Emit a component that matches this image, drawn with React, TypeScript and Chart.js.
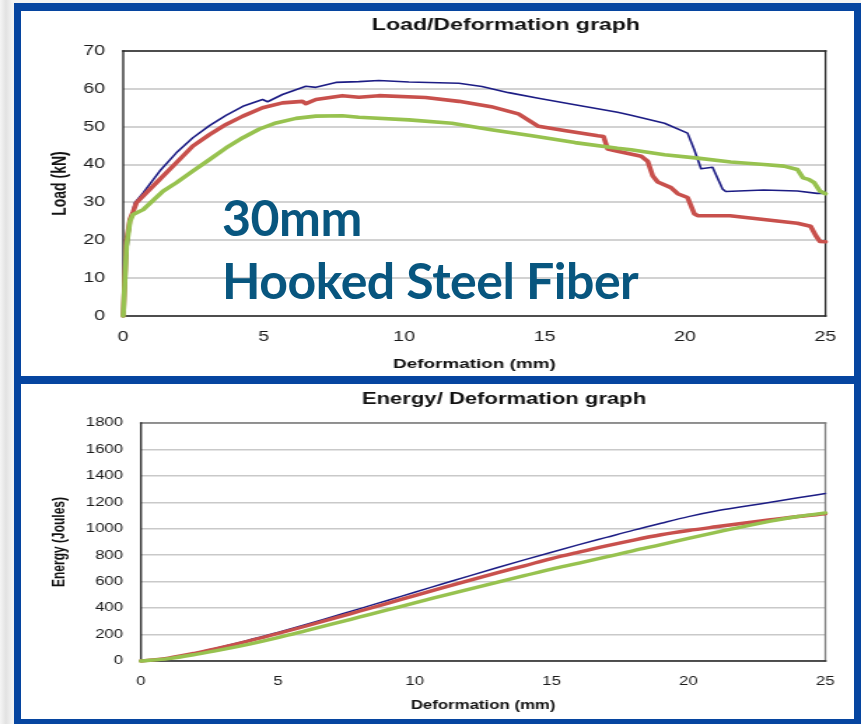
import React, { useEffect, useRef } from "react";
import { Chart, registerables } from "chart.js";

Chart.register(...registerables);

// The chart pictures are drawn narrow and widened on screen by this factor.
const STRETCH = 1.4;

// Axis ranges
const deformationMax = 25;
const deformationStep = 5;
const loadMax = 70;
const loadStep = 10;
const energyMax = 1800;
const energyStep = 200;

// Load / deformation records: deformation (mm) and load (kN)
const loadBlueX = [0, 0.1, 0.25, 0.41, 0.71, 1.3, 1.89, 2.48, 3.07, 3.66, 4.26, 4.96, 5.14, 5.67, 6.5, 6.86, 7.57, 8.39, 9.1, 10.17, 11.95, 12.77, 13.72, 14.78, 16.08, 17.6, 18.08, 19.27, 20.09, 20.33, 20.57, 20.98, 21.34, 21.45, 22.8, 24, 24.7, 25];
const loadBlueY = [0, 14, 25, 29.9, 32.5, 38.3, 43.1, 47.1, 50.3, 53, 55.4, 57.2, 56.6, 58.5, 60.7, 60.4, 61.7, 61.9, 62.2, 61.8, 61.5, 60.6, 59, 57.5, 55.8, 53.8, 53, 50.9, 48.3, 43.9, 38.9, 39.3, 33.5, 32.9, 33.3, 33, 32.4, 32.4];

const loadRedX = [0, 0.12, 0.24, 0.35, 0.47, 1.3, 1.89, 2.48, 3.07, 3.66, 4.26, 4.96, 5.67, 6.38, 6.5, 6.86, 7.8, 8.39, 9.1, 10.76, 11.95, 13.1, 14.07, 14.78, 15.7, 16.9, 17.1, 17.25, 17.6, 18.44, 18.67, 18.85, 19.03, 19.5, 19.74, 20.09, 20.33, 20.45, 21.6, 22.8, 24, 24.47, 24.65, 24.8, 25];
const loadRedY = [0, 20, 25.5, 27.5, 29.9, 36.1, 40.5, 44.9, 47.9, 50.6, 52.8, 55, 56.3, 56.7, 56.1, 57.2, 58.2, 57.8, 58.2, 57.7, 56.7, 55.3, 53.4, 50.1, 49, 47.6, 47.4, 44.1, 43.5, 42.2, 40.9, 37, 35.4, 33.9, 32.3, 31.3, 27, 26.5, 26.5, 25.5, 24.5, 23.7, 21.3, 19.7, 19.6];

const loadGreenX = [0, 0.12, 0.24, 0.35, 0.71, 1.42, 1.89, 2.48, 3.07, 3.66, 4.26, 4.85, 5.44, 6.15, 6.86, 7.8, 8.39, 10.17, 11.7, 13.1, 14.55, 16.08, 17.6, 18.08, 19.27, 20.45, 21.63, 22.81, 23.52, 24, 24.2, 24.4, 24.6, 24.8, 25];
const loadGreenY = [0, 18.5, 25, 26.8, 28.1, 33, 35.2, 38.3, 41.3, 44.4, 47.1, 49.4, 51, 52.2, 52.8, 52.9, 52.5, 51.8, 50.9, 49.2, 47.6, 45.8, 44.3, 43.9, 42.6, 41.7, 40.7, 40, 39.6, 38.7, 36.5, 36.1, 35.2, 33, 32.3];

// Energy / deformation records: deformation (mm) and absorbed energy (J)
const energyX = [0, 1, 2, 3, 4, 5, 6, 7, 8, 9, 10, 11, 12, 13, 14, 15, 16, 17, 18, 19, 20, 21, 22, 23, 24, 25];
const energyBlue = [0, 22, 62, 110, 162, 216, 274, 335, 396, 458, 520, 582, 644, 705, 765, 823, 880, 935, 990, 1042, 1092, 1134, 1168, 1201, 1234, 1266];
const energyRed = [0, 22, 60, 105, 155, 208, 263, 320, 378, 436, 495, 553, 610, 666, 720, 775, 824, 871, 915, 955, 987, 1015, 1042, 1068, 1093, 1113];
const energyGreen = [0, 18, 50, 88, 130, 177, 228, 280, 333, 386, 440, 492, 544, 595, 645, 695, 740, 787, 835, 880, 927, 973, 1017, 1058, 1093, 1120];

const BLUE = "#1c1c84";
const RED = "#c8504c";
const GREEN = "#97c24f";
const FRAME_BLUE = "#0645a0";
const FONT = '"Liberation Sans", Arial, Helvetica, sans-serif';

const toPoints = (xs: number[], ys: number[]) => xs.map((x, i) => ({ x, y: ys[i] }));

const series = (label: string, xs: number[], ys: number[], color: string, width: number, smooth: boolean) => ({
  label,
  data: toPoints(xs, ys),
  borderColor: color,
  backgroundColor: color,
  borderWidth: width,
  pointRadius: 0,
  fill: false,
  clip: false as const,
  tension: smooth ? 0.4 : 0,
  cubicInterpolationMode: smooth ? ("monotone" as const) : ("default" as const),
  borderJoinStyle: "round" as const,
  borderCapStyle: "round" as const,
});

// Box round the plotting area; sides may have different shades.
const plotFrame = {
  id: "plotFrame",
  beforeDatasetsDraw(chart: any, _args: any, opts: any) {
    const { ctx, chartArea: a } = chart;
    ctx.save();
    ctx.lineCap = "square";
    const line = (x1: number, y1: number, x2: number, y2: number, color: string, w: number) => {
      ctx.beginPath();
      ctx.strokeStyle = color;
      ctx.lineWidth = w;
      ctx.moveTo(x1, y1);
      ctx.lineTo(x2, y2);
      ctx.stroke();
    };
    line(a.left, a.top, a.right, a.top, opts.topColor, opts.hWidth);
    line(a.right, a.top, a.right, a.bottom, opts.rightColor, opts.vWidth);
    line(a.left, a.bottom, a.right, a.bottom, opts.bottomColor, opts.hWidth);
    line(a.left, a.top, a.left, a.bottom, opts.leftColor, opts.vWidth);
    ctx.restore();
  },
};

// Heading drawn at a fixed spot above the plot.
const panelTitle = {
  id: "panelTitle",
  afterDraw(chart: any, _args: any, opts: any) {
    const { ctx } = chart;
    ctx.save();
    ctx.font = `bold ${opts.size}px ${FONT}`;
    ctx.fillStyle = "#111";
    ctx.textAlign = "center";
    ctx.textBaseline = "middle";
    ctx.fillText(opts.text, opts.x, opts.y);
    ctx.restore();
  },
};

type Layout = {
  top: number;
  right: number;
  yWidth: number;
  xHeight: number;
  tickSize: number;
  yTickPad: number;
  xTickPad: number;
  yTitle: string;
  yTitleSize: number;
  yTitlePad: number;
  xTitleSize: number;
  xTitlePad: number;
  title: string;
  titleSize: number;
  titleX: number;
  titleY: number;
  yMax: number;
  yStep: number;
  gridColor: string;
  gridWidth: number;
  frame: any;
};

// Plain numbers, no thousands separators
const plainNumber = (v: number | string) => String(v);

function buildConfig(datasets: any[], L: Layout): any {
  return {
    type: "line",
    data: { datasets },
    plugins: [plotFrame, panelTitle],
    options: {
      responsive: false,
      animation: false,
      events: [],
      layout: { padding: { top: L.top, right: L.right, left: 0, bottom: 0 } },
      plugins: {
        legend: { display: false },
        tooltip: { enabled: false },
        title: { display: false },
        plotFrame: L.frame,
        panelTitle: { text: L.title, size: L.titleSize, x: L.titleX, y: L.titleY },
      },
      scales: {
        x: {
          type: "linear",
          min: 0,
          max: deformationMax,
          afterFit: (s: any) => {
            s.height = L.xHeight;
          },
          grid: { display: false, drawTicks: false },
          border: { display: false },
          ticks: {
            stepSize: deformationStep,
            maxRotation: 0,
            autoSkip: false,
            padding: L.xTickPad,
            color: "#1a1a1a",
            font: { family: FONT, size: L.tickSize },
            callback: plainNumber,
          },
          title: {
            display: true,
            text: "Deformation (mm)",
            color: "#111",
            font: { family: FONT, size: L.xTitleSize, weight: "bold" },
            padding: { top: 0, bottom: L.xTitlePad },
          },
        },
        y: {
          type: "linear",
          min: 0,
          max: L.yMax,
          afterFit: (s: any) => {
            s.width = L.yWidth;
          },
          grid: { color: L.gridColor, lineWidth: L.gridWidth, drawTicks: false },
          border: { display: false },
          ticks: {
            stepSize: L.yStep,
            padding: L.yTickPad,
            color: "#1a1a1a",
            font: { family: FONT, size: L.tickSize },
            callback: plainNumber,
          },
          title: {
            display: true,
            text: L.yTitle,
            color: "#111",
            font: { family: FONT, size: L.yTitleSize, weight: "bold" },
            padding: { top: L.yTitlePad, bottom: 0 },
          },
        },
      },
    },
  };
}

function StretchedChart({ config, width, height }: { config: any; width: number; height: number }) {
  const ref = useRef<HTMLCanvasElement | null>(null);
  useEffect(() => {
    if (!ref.current) return;
    const chart = new Chart(ref.current, config);
    return () => chart.destroy();
  }, []);
  return (
    <canvas
      ref={ref}
      width={Math.round(width / STRETCH)}
      height={height}
      style={{ position: "absolute", left: 0, top: 0, width: `${width}px`, height: `${height}px` }}
    />
  );
}

const PANEL_W = 833;
const TOP_H = 365;
const BOTTOM_H = 335;

const loadConfig = buildConfig(
  [
    series("Green", loadGreenX, loadGreenY, GREEN, 3.6, false),
    series("Red", loadRedX, loadRedY, RED, 3.6, false),
    series("Blue", loadBlueX, loadBlueY, BLUE, 1.6, false),
  ],
  {
    top: 40,
    right: 18.5,
    yWidth: 73,
    xHeight: 60,
    tickSize: 14,
    yTickPad: 13,
    xTickPad: 12.6,
    yTitle: "Load (kN)",
    yTitleSize: 14,
    yTitlePad: 19.5,
    xTitleSize: 13.5,
    xTitlePad: 3.9,
    title: "Load/Deformation graph",
    titleSize: 16.5,
    titleX: 346.4,
    titleY: 14,
    yMax: loadMax,
    yStep: loadStep,
    gridColor: "#d2d2d2",
    gridWidth: 2,
    frame: { topColor: "#222", rightColor: "#222", bottomColor: "#222", leftColor: "#222", hWidth: 1.6, vWidth: 1.3 },
  }
);

const energyConfig = buildConfig(
  [
    series("Green", energyX, energyGreen, GREEN, 3.4, true),
    series("Red", energyX, energyRed, RED, 3.4, true),
    series("Blue", energyX, energyBlue, BLUE, 1.5, true),
  ],
  {
    top: 39,
    right: 12.9,
    yWidth: 85.7,
    xHeight: 58,
    tickSize: 12,
    yTickPad: 12.8,
    xTickPad: 13.8,
    yTitle: "Energy (Joules)",
    yTitleSize: 12,
    yTitlePad: 20.7,
    xTitleSize: 12,
    xTitlePad: 5.8,
    title: "Energy/ Deformation graph",
    titleSize: 15.75,
    titleX: 345,
    titleY: 16,
    yMax: energyMax,
    yStep: energyStep,
    gridColor: "#c9c9c9",
    gridWidth: 1.6,
    frame: { topColor: "#7a7a7a", rightColor: "#7a7a7a", bottomColor: "#222", leftColor: "#222", hWidth: 1.6, vWidth: 1.3 },
  }
);

export default function App() {
  return (
    <div
      style={{
        position: "absolute",
        left: 0,
        top: 0,
        width: 861,
        height: 724,
        overflow: "hidden",
        background: "linear-gradient(to right, #f5f5f5 0px, #e2e2e2 6px, #f3f3f3 12px)",
      }}
    >
      <div style={{ position: "absolute", left: 14, top: 3, width: 847, height: 721, background: FRAME_BLUE }} />
      <div style={{ position: "absolute", left: 21, top: 11, width: PANEL_W, height: TOP_H, background: "#fff" }}>
        <StretchedChart config={loadConfig} width={PANEL_W} height={TOP_H} />
      </div>
      <div style={{ position: "absolute", left: 21, top: 384, width: PANEL_W, height: BOTTOM_H, background: "#fff" }}>
        <StretchedChart config={energyConfig} width={PANEL_W} height={BOTTOM_H} />
      </div>
      <div
        style={{
          position: "absolute",
          left: 222,
          top: 186,
          fontFamily: 'Lato, "Open Sans", sans-serif',
          fontWeight: 700,
          fontSize: 50,
          lineHeight: "63px",
          letterSpacing: "-0.5px",
          color: "#08567f",
          whiteSpace: "nowrap",
        }}
      >
        <div>30mm</div>
        <div>Hooked Steel Fiber</div>
      </div>
    </div>
  );
}
